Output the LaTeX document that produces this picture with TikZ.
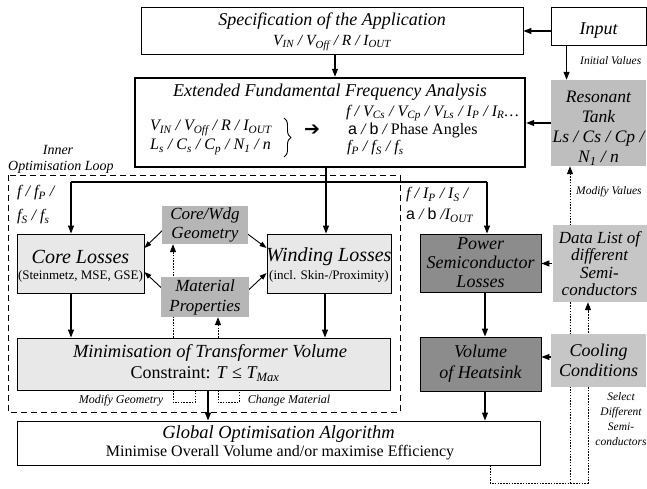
\documentclass[tikz,border=0pt]{standalone}
\usepackage{fontspec}
\setmainfont{Liberation Serif}
\newfontfamily\symf{DejaVu Sans}
\newfontfamily\sansf{Liberation Sans}
\usetikzlibrary{arrows.meta,backgrounds,decorations.pathreplacing}
\definecolor{lightbox}{RGB}{232,232,232}
\definecolor{cwgray}{RGB}{182,182,182}
\definecolor{resgray}{RGB}{190,190,190}
\definecolor{datgray}{RGB}{198,198,198}
\definecolor{dkgray}{RGB}{140,140,140}
\newcommand\sub[1]{\textsubscript{#1}}
\begin{document}
\begin{tikzpicture}[x=1pt,y=-1pt,
  box/.style={draw=black, line width=0.9pt, inner sep=0pt, align=center},
  gbox/.style={inner sep=0pt, align=center},
  arr/.style={-{Triangle[length=8pt,width=6pt]}, line width=1.1pt},
  darr/.style={-{Triangle[length=8pt,width=6pt]}, line width=1pt, dash pattern=on 1.5pt off 1.3pt},
  dln/.style={line width=1pt, dash pattern=on 1.5pt off 1.3pt},
  Tbig/.style={font=\fontsize{18}{20}\selectfont\itshape},
  Tmid/.style={font=\fontsize{16}{18}\selectfont\itshape, inner sep=0pt},
  lbl/.style={font=\fontsize{11.5}{13}\selectfont\itshape, inner sep=0pt},
]
\useasboundingbox (0,0) rectangle (647,489);

% top
\node[box, minimum width=382pt, minimum height=47pt] (spec) at (332,30.5) {};
\node[Tbig, inner sep=0pt] (spect) at (332,21) {Specification of the Application};
\node[Tmid, font=\fontsize{15.5}{17}\selectfont\itshape] (specv) at (332,43) {V\sub{IN} / V\sub{Off} / R / I\sub{OUT}};

\node[box, minimum width=95pt, minimum height=38pt] (input) at (598.5,26) {};
\node[Tbig, inner sep=0pt] (inputt) at (598.5,31) {Input};
\node[lbl, anchor=west] (initv) at (580,61) {Initial Values};

% EFFA
\node[box, line width=2.4pt, minimum width=390pt, minimum height=89pt] (effa) at (330,122.5) {};
\node[Tbig, inner sep=0pt] (effat) at (330,92) {Extended Fundamental Frequency Analysis};
\node[Tmid, anchor=west] (effa1) at (150,128) {V\sub{IN} / V\sub{Off} / R / I\sub{OUT}};
\node[Tmid, anchor=west] (effa2) at (150,147) {L\sub{s} / C\sub{s} / C\sub{p} / N\sub{1} / n};
\draw[decorate, decoration={brace, amplitude=7pt}, line width=0.9pt] (284,118) -- (284,157);
\node[font=\symf\bfseries\fontsize{19}{19}\selectfont, inner sep=0pt] (effaarr) at (312,130) {➔};
\node[Tmid, anchor=west] (effar1) at (346,113) {f / V\sub{Cs} / V\sub{Cp} / V\sub{Ls} / I\sub{P} / I\sub{R}\dots};
\node[Tmid, anchor=west] (effar2) at (348,130) {{\sansf\upshape a} / {\sansf\upshape b} / {\upshape Phase Angles}};
\node[Tmid, anchor=west] (effar3) at (347,148) {f\sub{P} / f\sub{S} / f\sub{s}};

\node[gbox, fill=resgray, minimum width=95pt, minimum height=86pt] (res) at (598.5,123) {};
\node[gbox, font=\fontsize{17.5}{20}\selectfont\itshape] (rest) at (598.5,128) {Resonant\\Tank\\Ls / Cs / Cp /\\N\sub{1} / n};

% inner loop
\draw[line width=0.8pt, dash pattern=on 6pt off 4pt] (8,175) rectangle (400,412);
\node[font=\fontsize{14}{15}\selectfont\itshape, inner sep=0pt] (inner1) at (58,150) {Inner};
\node[font=\fontsize{14}{15}\selectfont\itshape, inner sep=0pt, anchor=west] (inner2) at (8,167) {Optimisation Loop};

\node[Tmid, anchor=west] (ffp) at (17,193) {f / f\sub{P} /};
\node[Tmid, anchor=west] (ffs) at (17,217) {f\sub{S} / f\sub{s}};

\node[gbox, fill=cwgray, minimum width=86pt, minimum height=38pt, font=\fontsize{17}{18.5}\selectfont\itshape] (cw) at (205,225) {Core/Wdg\\Geometry};
\node[gbox, fill=cwgray, minimum width=88pt, minimum height=40pt, font=\fontsize{17}{20}\selectfont\itshape] (mat) at (205,297) {Material\\Properties};

\node[box, fill=lightbox, minimum width=127pt, minimum height=59pt] (core) at (80.5,263.5) {};
\node[font=\fontsize{20}{20}\selectfont\itshape, inner sep=0pt] (coret) at (80.5,257) {Core Losses};
\node[font=\fontsize{13}{13}\selectfont, inner sep=0pt] (cores) at (80.5,276) {(Steinmetz, MSE, GSE)};

\node[box, fill=lightbox, minimum width=124pt, minimum height=59pt] (wind) at (329,263.5) {};
\node[font=\fontsize{20}{20}\selectfont\itshape, inner sep=0pt] (windt) at (329,257) {Winding Losses};
\node[font=\fontsize{13}{13}\selectfont, inner sep=0pt] (winds) at (329,276) {(incl. Skin-/Proximity)};

\node[box, fill=lightbox, minimum width=373pt, minimum height=52pt] (mn) at (203.5,364) {};
\node[Tbig, font=\fontsize{18.5}{20}\selectfont\itshape, inner sep=0pt] (mnt) at (210,353) {Minimisation of Transformer Volume};
\node[font=\fontsize{18}{20}\selectfont, inner sep=0pt] (mnc) at (205,374) {Constraint: \textit{T} ≤ \textit{T\sub{Max}}};

\node[lbl, font=\fontsize{12}{13}\selectfont\itshape] (modg) at (121,401) {Modify Geometry};
\node[lbl, font=\fontsize{12}{13}\selectfont\itshape] (chm) at (289,401) {Change Material};

% right column
\node[Tmid, anchor=west] (fip) at (406,195) {f / I\sub{P} / I\sub{S} /};
\node[Tmid, anchor=west] (fab) at (406,215) {{\sansf\upshape a} / {\sansf\upshape b} /I\sub{OUT}};

\node[box, fill=dkgray, minimum width=121pt, minimum height=58pt, font=\fontsize{18}{19}\selectfont\itshape] (pow) at (480.5,263) {Power\\Semiconductor\\Losses};
\node[box, fill=dkgray, minimum width=121pt, minimum height=54pt, font=\fontsize{18}{21}\selectfont\itshape] (vol) at (480.5,364) {Volume\\of Heatsink};

\node[gbox, fill=datgray, minimum width=94pt, minimum height=77pt, font=\fontsize{17}{17.5}\selectfont\itshape] (dat) at (599.5,263.5) {Data List of\\different\\Semi-\\conductors};
\node[gbox, fill=datgray, minimum width=95pt, minimum height=53pt, font=\fontsize{18}{20}\selectfont\itshape] (cool) at (598.5,360.5) {Cooling\\Conditions};

\node[lbl, anchor=west] (modv) at (576,192) {Modify Values};
\node[lbl, align=center, font=\fontsize{11.5}{14.8}\selectfont\itshape] (sel) at (621,419) {Select\\Different\\Semi-\\conductors};

% global
\node[box, minimum width=523pt, minimum height=44pt] (glob) at (278.5,443) {};
\node[Tbig, font=\fontsize{18.5}{20}\selectfont\itshape, inner sep=0pt] (globt) at (278.5,434) {Global Optimisation Algorithm};
\node[font=\fontsize{16}{18}\selectfont, inner sep=0pt] (globs) at (280,453) {Minimise Overall Volume and/or maximise Efficiency};

\begin{pgfonlayer}{background}
\draw[arr] ([yshift=-5pt]input.west) -- ([yshift=-5pt]input.west -| spec.east);
\draw[arr] ([xshift=16pt]input.south west) -- ([xshift=16pt]input.south west |- res.north);
\draw[arr] ([xshift=3pt]spec.south) -- ([xshift=3pt]spec.south |- effa.north);
\draw[arr] (res.west) -- (res.west -| effa.east);
\coordinate (bl) at (71,182);
\coordinate (br) at (487,182);
\coordinate (bm) at (326,182);
\draw[line width=1.1pt] (bl) -- (br);
\draw[line width=1.1pt] (bm |- effa.south) -- (bm);
\draw[arr] (bm) -- (bm |- wind.north);
\draw[arr] (bl) -- (bl |- core.north);
\draw[arr] (br) -- (br |- pow.north);
\draw[arr] (bl |- core.south) -- (bl |- mn.north);
\coordinate (wx) at (325,0);
\draw[arr] (wx |- wind.south) -- (wx |- mn.north);
\coordinate (px) at (485,0);
\draw[arr] (px |- pow.south) -- (px |- vol.north);
\draw[arr] (px |- vol.south) -- (px |- glob.north);
\draw[arr] (dat.west) -- (dat.west -| pow.east);
\draw[arr] ([yshift=3.5pt]cool.west) -- ([yshift=3.5pt]cool.west -| vol.east);
\coordinate (mx) at (208,0);
\draw[arr] (mx |- mn.south) -- (mx |- glob.north);
% dotted feedback
\coordinate (gx) at (173,0);
\coordinate (mt) at (218,0);
\draw[darr] (gx |- mn.north) -- (gx |- cw.south);
\draw[darr] (mt |- mn.north) -- (mt |- mat.south);
\draw[dln] (gx |- mn.south) -- ++(0,12) -- ++(22,0) -- ++(0,-12);
\draw[dln] (mt |- mn.south) -- ++(0,12) -- ++(21,0) -- ++(0,-12);
\coordinate (lx) at (490,483);
\coordinate (rx) at (588,483);
\coordinate (vx) at (570,483);
\draw[darr] (lx |- glob.south) -- (lx) -- (rx) -- (rx |- dat.south);
\draw[darr] (vx) -- (vx |- res.south);
% diagonal arrows
\draw[arr, line width=0.9pt, -{Triangle[length=7pt,width=5pt]}] ([xshift=4pt,yshift=-2pt]cw.west) -- ([yshift=15.5pt]core.east);
\draw[arr, line width=0.9pt, -{Triangle[length=7pt,width=5pt]}] ([xshift=-6pt,yshift=-5pt]cw.east) -- ([yshift=15.5pt]wind.west);
\draw[arr, line width=0.9pt, -{Triangle[length=7pt,width=5pt]}] ([xshift=6pt,yshift=4pt]mat.west) -- ([yshift=-8.5pt]core.east);
\draw[arr, line width=0.9pt, -{Triangle[length=7pt,width=5pt]}] ([xshift=-6pt,yshift=2pt]mat.east) -- ([yshift=-9.5pt]wind.west);
\end{pgfonlayer}
\end{tikzpicture}
\end{document}
